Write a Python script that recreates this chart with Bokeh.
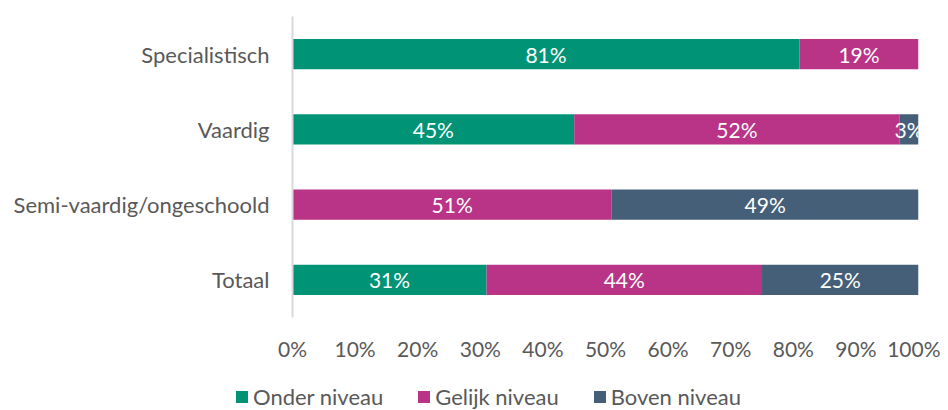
from bokeh.plotting import figure
from bokeh.layouts import column
from bokeh.models import ColumnDataSource, FactorRange, Range1d, Legend, LegendItem, FixedTicker
from bokeh.core.properties import value
from bokeh.embed import file_html
from bokeh.resources import INLINE

categories = ["Specialistisch", "Vaardig", "Semi-vaardig/ongeschoold", "Totaal"]
series_names = ["Onder niveau", "Gelijk niveau", "Boven niveau"]
onder = [81, 45, 0, 31]
gelijk = [19, 52, 51, 44]
boven = [0, 3, 49, 25]
tick_values = [0, 10, 20, 30, 40, 50, 60, 70, 80, 90, 100]
tick_labels = ["0%", "10%", "20%", "30%", "40%", "50%", "60%", "70%", "80%", "90%", "100%"]
colors = ["#009375", "#B93387", "#465F79"]

FONT = "Lato"
TXT = "#595959"

src = ColumnDataSource(dict(cat=categories, onder=onder, gelijk=gelijk, boven=boven))

p = figure(width=940, height=383,
           y_range=FactorRange(*reversed(categories)),
           x_range=Range1d(0, 100),
           output_backend="svg", toolbar_location=None,
           min_border_left=292, min_border_right=22,
           min_border_top=16, min_border_bottom=66)
p.frame_align = False

renderers = p.hbar_stack(["onder", "gelijk", "boven"], y="cat", height=0.4,
                         color=colors, line_color=None, source=src)

lx, ly, lt = [], [], []
for i, c in enumerate(categories):
    start = 0
    for vals in (onder, gelijk, boven):
        v = vals[i]
        if v > 0:
            lx.append(start + v / 2)
            ly.append(c)
            lt.append(f"{v}%")
        start += v
lab = ColumnDataSource(dict(x=lx, y=ly, t=lt))
p.text(x="x", y="y", text="t", source=lab, text_align="center", text_baseline="middle",
       text_color="white", text_font=value(FONT), text_font_size="21px")

p.xgrid.visible = False
p.ygrid.visible = False
p.outline_line_color = None

xa = p.xaxis[0]
xa.ticker = FixedTicker(ticks=tick_values)
xa.major_label_overrides = {v: l for v, l in zip(tick_values, tick_labels)}
xa.axis_line_color = None
xa.major_tick_line_color = None
xa.minor_tick_line_color = None
xa.major_tick_out = 0
xa.major_label_standoff = 18
xa.major_label_text_font = FONT
xa.major_label_text_font_size = "21px"
xa.major_label_text_color = TXT

ya = p.yaxis[0]
ya.axis_line_color = "#D9D9D9"
ya.axis_line_width = 2
ya.major_tick_line_color = None
ya.minor_tick_line_color = None
ya.major_tick_out = 0
ya.major_label_standoff = 23
ya.major_label_text_font = FONT
ya.major_label_text_font_size = "22px"
ya.major_label_text_color = TXT

# legend strip below the chart (hidden copies of the bars feed the legend swatches)
pl = figure(width=940, height=27, output_backend="svg", toolbar_location=None,
            min_border=0, x_axis_type=None, y_axis_type=None,
            x_range=Range1d(0, 100), y_range=FactorRange(*reversed(categories)))
pl.frame_align = False
pl.outline_line_color = None
pl.xgrid.visible = False
pl.ygrid.visible = False
leg_renderers = pl.hbar_stack(["onder", "gelijk", "boven"], y="cat", height=0.4,
                              color=colors, line_color=None, source=src)
for r in leg_renderers:
    r.visible = False
legend = Legend(items=[LegendItem(label=n, renderers=[r]) for n, r in zip(series_names, leg_renderers)],
                orientation="horizontal", location=(234, 0),
                glyph_width=15, glyph_height=15, label_standoff=4, spacing=33,
                padding=0, margin=0, border_line_color=None, background_fill_alpha=0,
                inactive_fill_alpha=0,
                label_text_font=FONT, label_text_font_size="22px", label_text_color=TXT)
pl.add_layout(legend, "center")

layout = column(p, pl, spacing=0)
open("out.html", "w").write(file_html(layout, INLINE))
